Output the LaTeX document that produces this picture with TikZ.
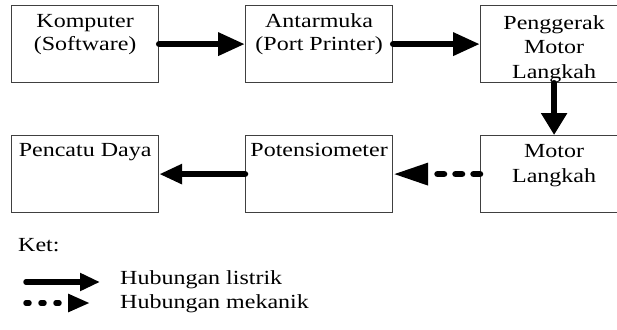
\documentclass[tikz,border=0pt]{standalone}
\usepackage{fontspec}
\setmainfont{Liberation Serif}[FakeStretch=1.2]
\usetikzlibrary{arrows.meta,calc}
\begin{document}
\begin{tikzpicture}[x=1pt,y=-1pt,
  box/.style={draw=black!75,line width=1.2pt,minimum width=147pt,minimum height=77pt,anchor=north west,inner sep=0pt},
  lbl/.style={align=center,inner sep=0pt,font=\fontsize{20}{22}\selectfont,anchor=base},
  lbltall/.style={lbl,font=\fontsize{20}{24.5}\selectfont},
  txt/.style={inner sep=0pt,font=\fontsize{20}{23}\selectfont},
  elec/.style={line width=6.5pt,line cap=round,-{Triangle[length=27pt,width=22pt]}},
  mech/.style={line width=6.5pt,line cap=round,dash pattern=on 6.5pt off 11.5pt,-{Triangle[length=35pt,width=21pt]}},
  legelec/.style={line width=5.5pt,line cap=round,-{Triangle[length=20pt,width=17pt]}},
  legmech/.style={line width=5.5pt,line cap=round,dash pattern=on 3pt off 12pt,-{Triangle[length=22pt,width=17pt]}}]
\useasboundingbox (0,0) rectangle (617,329);
\node[box] (b1) at (11,5) {};
\node[box] (b2) at (245,5) {};
\node[box] (b3) at (480,5) {};
\node[box] (b4) at (11,135) {};
\node[box] (b5) at (245,135) {};
\node[box] (b6) at (480,135) {};
\node[lbl] (t1) at ($(b1.north)+(0,45)$) {Komputer\\(Software)};
\node[lbl] (t2) at ($(b2.north)+(0,45)$) {Antarmuka\\(Port Printer)};
\node[lbltall] (t3) at ($(b3.north)+(0,73)$) {Penggerak\\Motor\\Langkah};
\node[lbl] (t4) at ($(b4.north)+(0,21)$) {Pencatu Daya};
\node[lbl] (t5) at ($(b5.north)+(0,21)$) {Potensiometer};
\node[lbltall] (t6) at ($(b6.north)+(0,47)$) {Motor\\Langkah};
\draw[elec] (b1.east) -- (b2.west);
\draw[elec] (b2.east) -- (b3.west);
\draw[elec,-{Triangle[length=22pt,width=25pt]}] (b3.south) -- (b6.north);
\draw[elec,-{Triangle[length=23pt,width=19pt]}] (b5.west) -- (b4.east);
\draw[mech] (b6.west) -- (b5.east);
\node[txt,anchor=base west] (ket) at (18,251) {Ket:};
\coordinate (l1s) at (26,282);
\coordinate (l1e) at (100,282);
\coordinate (l2s) at (26,303);
\coordinate (l2e) at (90,303);
\draw[legelec] (l1s) -- (l1e);
\draw[legmech] (l2s) -- (l2e);
\node[txt,anchor=base west] (h1) at (120,284) {Hubungan listrik};
\node[txt,anchor=base west] (h2) at (120,308) {Hubungan mekanik};
\end{tikzpicture}
\end{document}
